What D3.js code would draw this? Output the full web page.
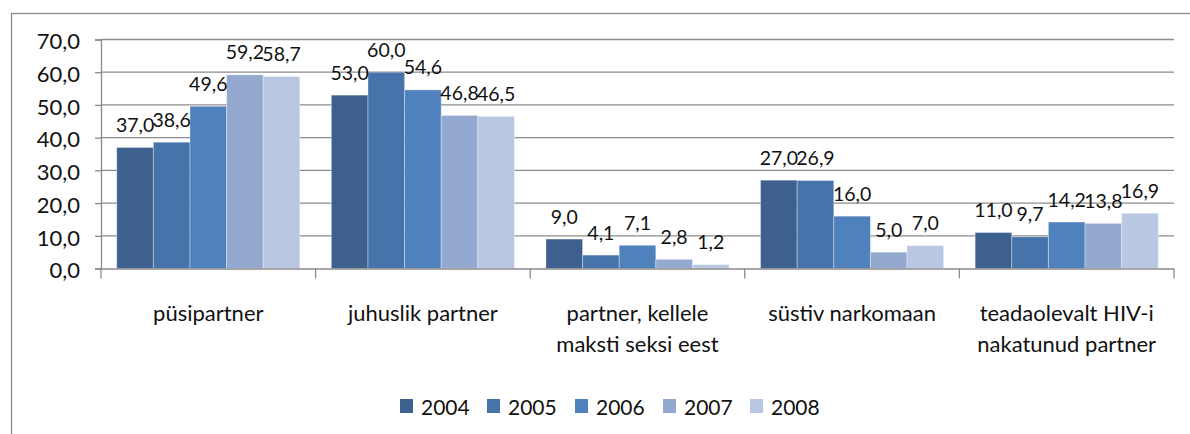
<!DOCTYPE html>
<html>
<head>
<meta charset="utf-8">
<script src="https://cdn.jsdelivr.net/npm/d3@7"></script>
<style>
  html, body { margin: 0; padding: 0; background: #fff; }
  svg { display: block; font-family: Lato, "Open Sans", sans-serif; }
</style>
</head>
<body>
<svg id="chart" width="1190" height="434"></svg>
<script>
const categories = [
  ["püsipartner"],
  ["juhuslik partner"],
  ["partner, kellele", "maksti seksi eest"],
  ["süstiv narkomaan"],
  ["teadaolevalt HIV-i", "nakatunud partner"]
];
const years = ["2004", "2005", "2006", "2007", "2008"];
const v2004 = [37.0, 53.0, 9.0, 27.0, 11.0];
const v2005 = [38.6, 60.0, 4.1, 26.9, 9.7];
const v2006 = [49.6, 54.6, 7.1, 16.0, 14.2];
const v2007 = [59.2, 46.8, 2.8, 5.0, 13.8];
const v2008 = [58.7, 46.5, 1.2, 7.0, 16.9];
const yTicks = [0, 10, 20, 30, 40, 50, 60, 70];
const colors = ["#3d608e", "#4673a9", "#4f81bd", "#94a9d0", "#b9c7e3"];

const series = [v2004, v2005, v2006, v2007, v2008];
const svg = d3.select("#chart");
const fmt = v => v.toFixed(1).replace(".", ",");

// outer border
svg.append("rect").attr("x", 11.5).attr("y", 13.5).attr("width", 1300).attr("height", 600)
  .attr("fill", "none").attr("stroke", "#8a8a8a").attr("stroke-width", 1.3);

const pL = 101, pR = 1174, pT = 39.5, pB = 268.5;
const catIdx = categories.map((c, i) => i);
const x0 = d3.scaleBand().domain(catIdx).range([pL, pR]).padding(0);
const x1 = d3.scaleBand().domain(years).range([0, x0.bandwidth()]).paddingInner(0).paddingOuter(0.43);
const y = d3.scaleLinear().domain([0, 70]).range([pB, pT]);

// gridlines
svg.append("g").selectAll("line").data(yTicks.filter(t => t > 0)).join("line")
  .attr("x1", pL).attr("x2", pR)
  .attr("y1", d => y(d)).attr("y2", d => y(d))
  .attr("stroke", "#8c8c8c").attr("stroke-width", 1.3);

// y axis
const yAxis = d3.axisLeft(y).tickValues(yTicks).tickSize(6).tickPadding(15).tickFormat(fmt);
const gy = svg.append("g").attr("transform", `translate(${pL},0)`).call(yAxis);
gy.select(".domain").attr("stroke", "#8a8a8a").attr("stroke-width", 1.3);
gy.selectAll(".tick line").attr("stroke", "#8a8a8a").attr("stroke-width", 1.3);
gy.selectAll(".tick text").attr("font-family", "Lato").attr("font-size", 22).attr("fill", "#111")
  .attr("dy", "0.42em");

// bars
const groups = svg.append("g").selectAll("g").data(catIdx).join("g")
  .attr("transform", d => `translate(${x0(d)},0)`);
groups.selectAll("rect").data(ci => years.map((yr, si) => ({ yr, si, v: series[si][ci] }))).join("rect")
  .attr("x", d => x1(d.yr)).attr("width", x1.bandwidth())
  .attr("y", d => y(d.v)).attr("height", d => y(0) - y(d.v))
  .attr("fill", d => colors[d.si])
  .attr("stroke", "rgba(255,255,255,0.35)").attr("stroke-width", 1);
groups.selectAll("text").data(ci => years.map((yr, si) => ({ yr, si, v: series[si][ci] }))).join("text")
  .attr("x", d => x1(d.yr) + x1.bandwidth() / 2).attr("y", d => y(d.v) - 15.5)
  .attr("text-anchor", "middle").attr("font-size", 19.5).attr("fill", "#111")
  .text(d => fmt(d.v));

// x axis
const xAxisLine = svg.append("g");
xAxisLine.append("line").attr("x1", pL).attr("x2", pR).attr("y1", pB + 0.5).attr("y2", pB + 0.5)
  .attr("stroke", "#8a8a8a").attr("stroke-width", 1.3);
xAxisLine.selectAll("line.t").data(d3.range(categories.length + 1)).join("line").attr("class", "t")
  .attr("x1", d => pL + d * x0.step()).attr("x2", d => pL + d * x0.step())
  .attr("y1", pB).attr("y2", pB + 10)
  .attr("stroke", "#8a8a8a").attr("stroke-width", 1.3);

// category labels
const catLabels = svg.append("g").selectAll("text").data(catIdx).join("text")
  .attr("x", d => x0(d) + x0.bandwidth() / 2).attr("y", 321)
  .attr("text-anchor", "middle").attr("font-size", 22).attr("fill", "#111");
catLabels.selectAll("tspan").data(d => categories[d]).join("tspan")
  .attr("x", function() { return d3.select(this.parentNode).attr("x"); })
  .attr("dy", (d, i) => i === 0 ? 0 : 31)
  .text(d => d);

// legend
const legendX = [400, 487, 575, 663, 750];
const lg = svg.append("g").selectAll("g").data(years).join("g")
  .attr("transform", (d, i) => `translate(${legendX[i]},399)`);
lg.append("rect").attr("width", 13).attr("height", 14).attr("fill", (d, i) => colors[i]);
lg.append("text").attr("x", 21).attr("y", 16).attr("font-size", 21).attr("fill", "#111").text(d => d);
</script>
</body>
</html>
